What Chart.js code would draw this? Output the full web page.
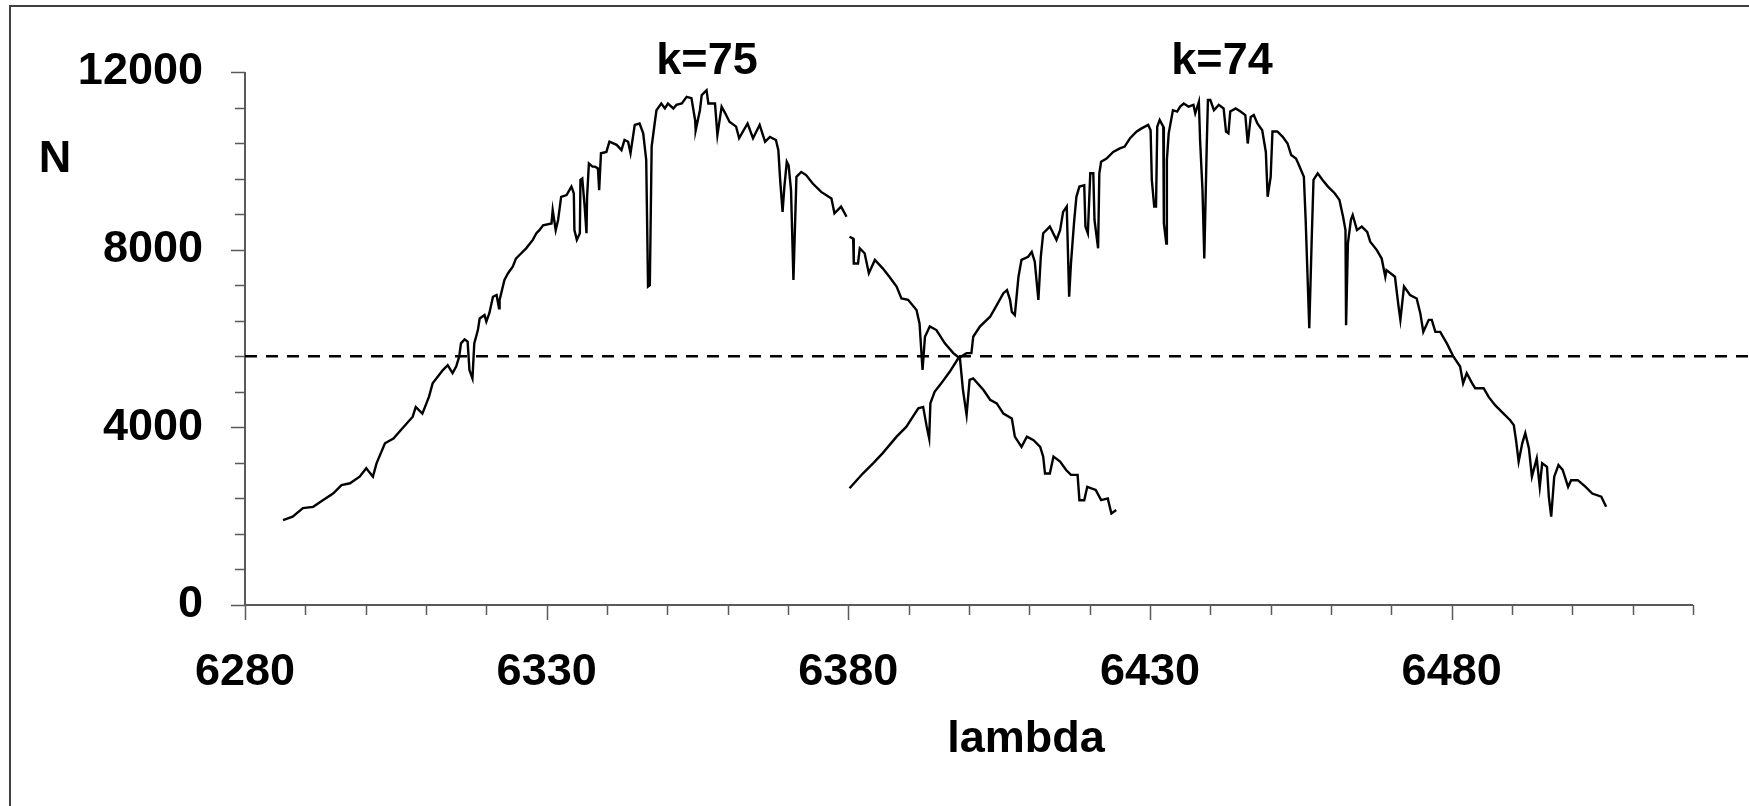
<!DOCTYPE html>
<html lang="en">
<head>
    <meta charset="UTF-8">
    <title>k=75 / k=74 orders</title>
    <script src="https://cdn.jsdelivr.net/npm/chart.js"></script>
    <style>
        body {
            margin: 0;
            background: #ffffff;
        }
        .chart-box {
            position: relative;
            width: 1749px;
            height: 806px;
        }
    </style>
</head>
<body>
    <div class="chart-box">
        <canvas id="spectrum"></canvas>
    </div>
    <script>
        // order k=75 (null = break in the trace)
        const lambda75 = [6286.3, 6287.9, 6289.6, 6291.3, 6292.9, 6294.6, 6296.0, 6297.4, 6299.0, 6300.1,
            6301.2, 6301.8, 6303.2, 6304.6, 6306.1, 6307.8, 6308.3, 6309.4, 6310.5, 6311.1,
            6312.8, 6313.6, 6314.4, 6315.0, 6315.5, 6315.8, 6316.4, 6316.9, 6317.2, 6317.7,
            6318.0, 6318.6, 6318.9, 6319.7, 6320.0, 6320.5, 6321.1, 6321.7, 6322.1, 6322.2,
            6323.0, 6323.6, 6324.4, 6324.9, 6325.5, 6326.6, 6327.7, 6328.3, 6328.8, 6329.4,
            6330.8, 6331.0, 6331.5, 6331.9, 6332.4, 6333.3, 6334.1, 6334.5, 6334.6, 6335.0,
            6335.5, 6335.6, 6335.9, 6336.3, 6336.6, 6336.7, 6337.0, 6337.6, 6338.0, 6338.5,
            6338.7, 6339.0, 6339.9, 6340.4, 6341.6, 6342.4, 6342.9, 6343.5, 6343.9, 6344.6,
            6345.4, 6346.0, 6346.5, 6346.8, 6347.1, 6347.4, 6347.9, 6348.2, 6349.0, 6349.6,
            6350.1, 6351.0, 6351.5, 6352.4, 6353.2, 6354.0, 6354.6, 6354.7, 6355.4, 6355.7,
            6356.5, 6356.8, 6357.9, 6358.3, 6359.0, 6359.6, 6360.3, 6361.4, 6361.9, 6363.3,
            6364.2, 6365.3, 6366.2, 6367.0, 6368.0, 6368.4, 6368.7, 6369.1, 6369.4, 6369.8,
            6370.1, 6370.5, 6370.9, 6371.4, 6372.2, 6373.0, 6374.1, 6375.5, 6377.2, 6377.7,
            6378.8, 6379.7, 6380.0, 6380.2, 6380.8, 6380.9, 6381.6, 6381.9, 6382.7, 6383.4,
            6384.4, 6385.7, 6386.8, 6388.0, 6388.8, 6389.9, 6391.3, 6391.8, 6392.3, 6392.7,
            6393.5, 6394.6, 6396.0, 6397.4, 6398.5, 6399.0, 6399.6, 6400.1, 6400.7, 6402.4,
            6403.5, 6404.6, 6405.7, 6407.1, 6407.6, 6408.7, 6409.6, 6410.7, 6411.8, 6412.3,
            6412.6, 6413.4, 6414.0, 6415.1, 6416.1, 6416.9, 6418.0, 6418.3, 6419.1, 6419.6,
            6421.0, 6421.9, 6423.0, 6423.6, 6424.4];
        const n75 = [1910, 1990, 2180, 2210, 2360, 2510, 2700, 2740, 2890, 3080,
            2890, 3190, 3640, 3750, 3980, 4240, 4460, 4310, 4690, 4990,
            5290, 5400, 5220, 5370, 5590, 5890, 5980, 5930, 5290, 5100,
            5890, 6190, 6450, 6530, 6380, 6570, 6940, 6980, 6680, 6870,
            7320, 7470, 7620, 7800, 7880, 8030, 8220, 8370, 8440, 8550,
            8590, 8890, 8440, 8670, 9190, 9230, 9420, 9270, 8440, 8220,
            8370, 9570, 9600, 8970, 8370, 9190, 9940, 9870, 9870, 9830,
            9340, 10170, 10200, 10430, 10360, 10240, 10470, 10430, 10170, 10810,
            10840, 10620, 10020, 7170, 7200, 10320, 10840, 11140, 11290, 11180,
            11290, 11180, 11260, 11290, 11440, 11410, 10920, 10690, 11140, 11480,
            11590, 11290, 11290, 10580, 11220, 11070, 10880, 10770, 10510, 10840,
            10510, 10810, 10430, 10540, 10470, 10240, 9570, 8850, 9420, 9980,
            9900, 9340, 7320, 9640, 9750, 9680, 9490, 9300, 9150, 8820,
            8970, 8740, null, 8290, 8250, 7690, 7690, 8030, 7920, 7470,
            7770, 7580, 7390, 7170, 6900, 6870, 6640, 6340, 5290, 6040,
            6270, 6190, 5890, 5670, 5550, 4840, 4280, 5070, 5100, 4840,
            4620, 4540, 4310, 4200, 3790, 3560, 3790, 3710, 3560, 3340,
            2960, 2960, 3340, 3230, 3040, 2930, 2930, 2360, 2360, 2660,
            2590, 2360, 2400, 2060, 2140];

        // order k=74
        const lambda74 = [6380.2, 6382.4, 6384.1, 6385.7, 6388.0, 6389.6, 6390.7, 6391.6, 6392.4, 6393.0,
            6393.4, 6393.6, 6394.3, 6395.4, 6396.8, 6398.2, 6399.6, 6400.4, 6400.7, 6401.8,
            6403.5, 6404.6, 6405.7, 6406.3, 6406.8, 6407.1, 6407.6, 6408.2, 6408.7, 6409.8,
            6410.4, 6410.9, 6411.5, 6411.9, 6412.3, 6413.4, 6414.5, 6415.1, 6415.6, 6416.2,
            6416.6, 6416.9, 6417.4, 6417.8, 6418.3, 6419.1, 6419.3, 6419.7, 6420.1, 6420.6,
            6420.8, 6421.4, 6421.6, 6421.9, 6422.8, 6423.9, 6425.0, 6425.8, 6426.7, 6427.8,
            6428.6, 6429.7, 6430.1, 6430.3, 6430.7, 6431.0, 6431.2, 6431.6, 6432.2, 6432.3,
            6432.7, 6432.8, 6433.1, 6433.8, 6434.5, 6435.0, 6435.6, 6436.4, 6437.2, 6437.5,
            6438.1, 6438.3, 6438.7, 6439.0, 6439.4, 6439.6, 6440.0, 6440.6, 6441.4, 6442.2,
            6442.6, 6443.0, 6443.3, 6444.2, 6445.0, 6445.8, 6446.2, 6446.7, 6447.2, 6447.8,
            6448.6, 6449.2, 6449.5, 6450.0, 6450.3, 6451.1, 6452.0, 6452.8, 6453.4, 6454.2,
            6454.7, 6455.5, 6455.8, 6456.4, 6456.8, 6457.1, 6457.8, 6458.6, 6459.5, 6460.6,
            6461.4, 6462.0, 6462.4, 6462.5, 6462.8, 6463.3, 6463.6, 6464.3, 6465.1, 6466.0,
            6466.5, 6467.6, 6468.4, 6469.0, 6469.2, 6470.6, 6471.2, 6471.5, 6472.1, 6473.1,
            6474.2, 6474.8, 6475.3, 6476.2, 6476.7, 6477.3, 6478.1, 6479.2, 6480.3, 6481.4,
            6481.9, 6482.5, 6483.4, 6483.9, 6485.3, 6486.1, 6487.2, 6488.6, 6489.7, 6490.3,
            6490.7, 6491.1, 6491.7, 6492.2, 6492.8, 6493.3, 6494.1, 6494.6, 6495.0, 6495.8,
            6496.1, 6496.5, 6497.0, 6497.7, 6498.4, 6499.3, 6499.8, 6500.9, 6502.2, 6503.3,
            6504.8, 6505.6];
        const n74 = [2630, 2960, 3190, 3420, 3790, 4010, 4240, 4430, 4460, 4010,
            3750, 4540, 4800, 4990, 5250, 5550, 5670, 5670, 6040, 6270,
            6490, 6750, 7020, 7090, 6870, 6600, 6530, 7390, 7770, 7840,
            7950, 7730, 6870, 7840, 8370, 8520, 8220, 8440, 8850, 8970,
            6940, 7690, 8590, 9190, 9420, 9450, 8520, 8370, 9720, 9720,
            8670, 8030, 9720, 9980, 10050, 10200, 10280, 10320, 10510, 10660,
            10730, 10810, 10690, 9570, 8970, 8970, 10770, 10920, 10770, 8590,
            8140, 10020, 10620, 11140, 11110, 11220, 11290, 11220, 11260, 11070,
            11330, 10470, 9340, 7800, 10320, 11370, 11370, 11140, 11260, 11180,
            10660, 10620, 11110, 11180, 11110, 11030, 10390, 10990, 11030, 10840,
            10690, 10200, 9190, 9640, 10660, 10660, 10540, 10390, 10130, 10050,
            9900, 9640, 8670, 6230, 8220, 9570, 9720, 9570, 9420, 9270,
            9120, 8740, 8440, 6300, 8140, 8670, 8780, 8440, 8520, 8400,
            8180, 7990, 7800, 7390, 7540, 7390, 6720, 6420, 7170, 6980,
            6900, 6570, 6150, 6420, 6420, 6150, 6150, 5890, 5590, 5370,
            4990, 5220, 4990, 4880, 4880, 4690, 4500, 4310, 4160, 4050,
            3680, 3230, 3640, 3870, 3530, 2890, 3300, 2660, 3190, 3110,
            2440, 1990, 2890, 3150, 3040, 2660, 2810, 2810, 2660, 2510,
            2440, 2210];

        // dashed level line
        const levelLambda = [6280, 6530];
        const levelN = 5600;

        const xTickLabels = [6280, 6330, 6380, 6430, 6480];
        const yTickLabels = [0, 4000, 8000, 12000];

        const textFont = 'bold 45px "Liberation Sans", Arial, sans-serif';

        const toPoints = (xs, ys) => xs.map((x, i) => ({ x: x, y: ys[i] }));

        // frame, axis lines, tick marks and the free text
        const decorations = {
            id: 'decorations',
            beforeDatasetsDraw(chart) {
                const ctx = chart.ctx;
                const area = chart.chartArea;
                const xs = chart.scales.x;
                const ys = chart.scales.y;
                ctx.save();

                // outer frame (left and top only, the rest is cut off)
                ctx.strokeStyle = '#404040';
                ctx.lineWidth = 2;
                ctx.beginPath();
                ctx.moveTo(10, chart.height);
                ctx.lineTo(10, 6);
                ctx.lineTo(chart.width, 6);
                ctx.stroke();

                // axes
                ctx.strokeStyle = '#5a5a5a';
                ctx.lineWidth = 2;
                ctx.beginPath();
                ctx.moveTo(area.left, area.top);
                ctx.lineTo(area.left, area.bottom);
                ctx.lineTo(area.right, area.bottom);
                ctx.stroke();

                ctx.lineWidth = 1.5;
                ctx.beginPath();
                xs.ticks.forEach(t => {
                    const px = Math.round(xs.getPixelForValue(t.value)) + 0.5;
                    const len = xTickLabels.includes(Math.round(t.value)) ? 15 : 10;
                    ctx.moveTo(px, area.bottom);
                    ctx.lineTo(px, area.bottom + len);
                });
                ys.ticks.forEach(t => {
                    const py = Math.round(ys.getPixelForValue(t.value)) + 0.5;
                    const len = yTickLabels.includes(Math.round(t.value)) ? 14 : 10;
                    ctx.moveTo(area.left, py);
                    ctx.lineTo(area.left - len, py);
                });
                ctx.stroke();

                // titles and order labels
                ctx.fillStyle = '#000000';
                ctx.font = textFont;
                ctx.textAlign = 'center';
                ctx.textBaseline = 'alphabetic';
                ctx.fillText('N', 55, 172);
                ctx.fillText('lambda', 1026, 752);
                ctx.fillText('k=75', 707, 74);
                ctx.fillText('k=74', 1222, 74);
                ctx.restore();
            }
        };

        const ctx = document.getElementById('spectrum').getContext('2d');
        new Chart(ctx, {
            type: 'line',
            data: {
                datasets: [{
                    label: 'k=75',
                    data: toPoints(lambda75, n75),
                    borderColor: '#000000',
                    borderWidth: 2.4,
                    pointRadius: 0,
                    tension: 0,
                    spanGaps: false
                }, {
                    label: 'k=74',
                    data: toPoints(lambda74, n74),
                    borderColor: '#000000',
                    borderWidth: 2.4,
                    pointRadius: 0,
                    tension: 0
                }, {
                    label: 'level',
                    data: levelLambda.map(x => ({ x: x, y: levelN })),
                    borderColor: '#000000',
                    borderWidth: 2.6,
                    borderDash: [12, 9],
                    pointRadius: 0,
                    clip: false
                }]
            },
            options: {
                responsive: true,
                maintainAspectRatio: false,
                devicePixelRatio: 1,
                animation: false,
                layout: {
                    padding: { left: 0, top: 72, right: 56, bottom: 0 }
                },
                plugins: {
                    legend: { display: false },
                    tooltip: { enabled: false }
                },
                scales: {
                    x: {
                        type: 'linear',
                        min: 6280,
                        max: 6520,
                        grid: { display: false, drawTicks: false },
                        border: { display: false },
                        ticks: {
                            stepSize: 10,
                            autoSkip: false,
                            maxRotation: 0,
                            padding: 41,
                            color: '#000000',
                            font: { family: '"Liberation Sans", Arial, sans-serif', size: 45, weight: 'bold' },
                            callback: v => xTickLabels.includes(Math.round(v)) ? String(Math.round(v)) : ''
                        },
                        afterFit: scale => { scale.height = 201; }
                    },
                    y: {
                        min: 0,
                        max: 12000,
                        grid: { display: false, drawTicks: false },
                        border: { display: false },
                        ticks: {
                            stepSize: 800,
                            autoSkip: false,
                            padding: 42,
                            color: '#000000',
                            font: { family: '"Liberation Sans", Arial, sans-serif', size: 45, weight: 'bold' },
                            callback: v => yTickLabels.includes(Math.round(v)) ? String(Math.round(v)) : ''
                        },
                        afterFit: scale => { scale.width = 245; }
                    }
                }
            },
            plugins: [decorations]
        });
    </script>
</body>
</html>
